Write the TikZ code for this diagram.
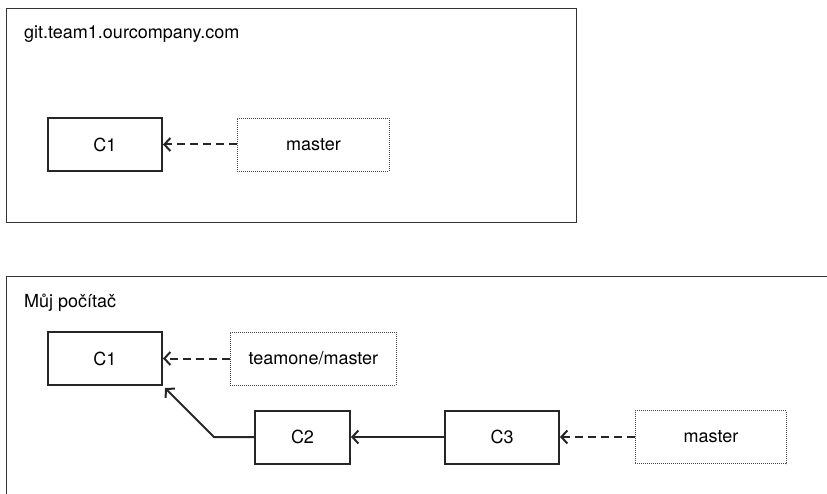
\documentclass[tikz,border=0pt]{standalone}
\usepackage{fontspec}
\setmainfont{TeX Gyre Heros}
\usetikzlibrary{positioning, arrows.meta}

\begin{document}
\begin{tikzpicture}[
  x=1pt, y=-1pt,
  font=\fontsize{18}{22}\selectfont,
  frame/.style={draw=black!80, line width=1pt},
  commit/.style={rectangle, draw=black!85, line width=2pt, minimum width=114pt, minimum height=53pt, inner sep=0pt},
  branch/.style={rectangle, draw=black!70, line width=0.9pt, dash pattern=on 1pt off 1pt, minimum height=53pt, inner sep=0pt},
  title/.style={anchor=base west, inner sep=0pt},
  arr/.style={-{Straight Barb[length=6pt, width=13pt]}, line width=2pt, black!85},
  ref/.style={arr, dash pattern=on 8pt off 5pt}
]
\useasboundingbox (0,0) rectangle (827,494);
\clip (0,0) rectangle (827,494);
% ----- Server -----
\draw[frame] (6,9) rectangle (576,223);
\node[title] (tserver) at (24,39) {git.team1.ourcompany.com};
\node[commit] (sc1) at (105,144.5) {C1};
\node[branch, minimum width=152pt, right=74pt of sc1] (smaster) {master};
\draw[ref] (smaster) -- (sc1);
% ----- Local -----
\draw[frame] (6,277) rectangle (840,510);
\node[title] (tlocal) at (24,307) {Můj počítač};
\node[commit] (lc1) at (105,358.5) {C1};
\node[branch, minimum width=166pt, right=67pt of lc1] (lteam) {teamone/master};
\node[commit, minimum width=95pt] (lc2) at (302.5,437) {C2};
\node[commit, right=93pt of lc2] (lc3) {C3};
\node[branch, minimum width=151pt, right=75pt of lc3] (lmaster) {master};
\draw[ref] (lteam) -- (lc1);
\draw[ref] (lmaster) -- (lc3);
\draw[arr] (lc3) -- (lc2);
\draw[arr] (lc2.west) -- ++(-40,0) -- ([shift={(2,2)}]lc1.south east);
\end{tikzpicture}
\end{document}
